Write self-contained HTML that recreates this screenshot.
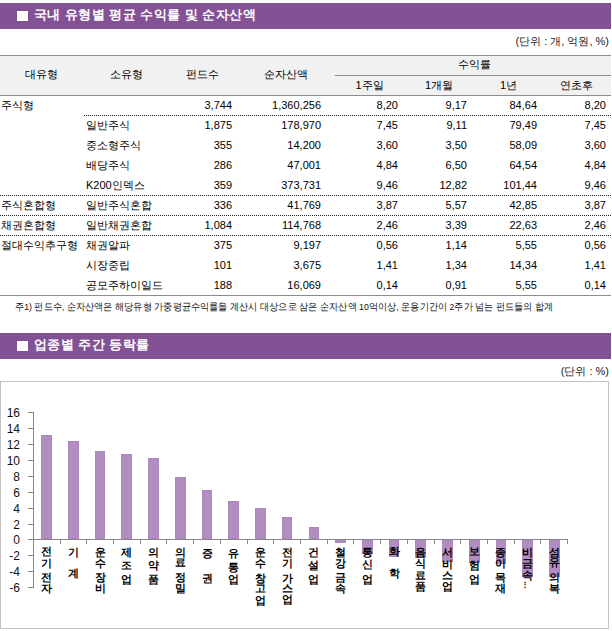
<!DOCTYPE html>
<html><head><meta charset="utf-8"><style>
html,body{margin:0;padding:0;background:#fff}
body{width:612px;height:631px;position:relative;overflow:hidden;font-family:"Liberation Sans",sans-serif;color:#000}
.bar{position:absolute;left:0;width:611px;height:26px;background:#835295}
.sq{position:absolute;width:11px;height:10px;background:#fff}
.tt{position:absolute;color:#fff;font-weight:bold;font-size:13px;line-height:14px;white-space:nowrap;letter-spacing:0.45px}
.unit{position:absolute;font-size:11px;line-height:13px;color:#222;white-space:nowrap}
.hl{position:absolute;height:1px}
.dl{position:absolute;height:1px;background:repeating-linear-gradient(90deg,#222 0 1px,transparent 1px 2px)}
.t{position:absolute;font-size:11px;line-height:16px;white-space:nowrap;color:#000}
.c{width:120px;text-align:center}
.r{text-align:right}
.note{position:absolute;font-size:9.5px;line-height:14px;white-space:nowrap;color:#111;transform:scaleX(0.918);transform-origin:0 0}
.yl{font-size:12px;font-family:"Liberation Sans",sans-serif;fill:#111}
.cl{position:absolute;width:20px;text-align:center;font-size:10.5px;line-height:16px;font-weight:bold;color:#000}
</style></head><body>
<div class="bar" style="top:3px"><span class="sq" style="left:17px;top:8px"></span><span class="tt" style="left:34px;top:5px">국내 유형별 평균 수익률 및 순자산액</span></div>
<div class="unit" style="right:3px;top:35px">(단위 : 개, 억원, %)</div>
<div class="hl" style="top:55px;left:0;width:611px;background:#8c8c8c"></div>
<div style="position:absolute;top:56px;left:0;width:611px;height:39px;background:#f1f1f1"></div>
<div class="hl" style="top:75px;left:335px;width:276px;background:#8c8c8c"></div>
<div class="hl" style="top:95px;left:0;width:611px;background:#8c8c8c"></div>
<div class="hl" style="top:295px;left:0;width:611px;background:#8c8c8c"></div>
<div class="dl" style="top:115px;left:84px;width:527px"></div>
<div class="dl" style="top:195px;left:0px;width:611px"></div>
<div class="dl" style="top:215px;left:0px;width:611px"></div>
<div class="dl" style="top:235px;left:0px;width:611px"></div>
<div class="t c" style="left:-19px;top:66px">대유형</div>
<div class="t c" style="left:66.5px;top:66px">소유형</div>
<div class="t c" style="left:142.5px;top:66px">펀드수</div>
<div class="t c" style="left:226px;top:66px">순자산액</div>
<div class="t c" style="left:414px;top:56px">수익률</div>
<div class="t c" style="left:309.5px;top:77px">1주일</div>
<div class="t c" style="left:379px;top:77px">1개월</div>
<div class="t c" style="left:448.6px;top:77px">1년</div>
<div class="t c" style="left:516.8px;top:77px">연초후</div>
<div class="t" style="left:1px;top:97px">주식형</div>
<div class="t r" style="right:380px;top:97px">3,744</div>
<div class="t r" style="right:291px;top:97px">1,360,256</div>
<div class="t r" style="right:214px;top:97px">8,20</div>
<div class="t r" style="right:145px;top:97px">9,17</div>
<div class="t r" style="right:75px;top:97px">84,64</div>
<div class="t r" style="right:6px;top:97px">8,20</div>
<div class="t" style="left:86px;top:117px">일반주식</div>
<div class="t r" style="right:380px;top:117px">1,875</div>
<div class="t r" style="right:291px;top:117px">178,970</div>
<div class="t r" style="right:214px;top:117px">7,45</div>
<div class="t r" style="right:145px;top:117px">9,11</div>
<div class="t r" style="right:75px;top:117px">79,49</div>
<div class="t r" style="right:6px;top:117px">7,45</div>
<div class="t" style="left:86px;top:137px">중소형주식</div>
<div class="t r" style="right:380px;top:137px">355</div>
<div class="t r" style="right:291px;top:137px">14,200</div>
<div class="t r" style="right:214px;top:137px">3,60</div>
<div class="t r" style="right:145px;top:137px">3,50</div>
<div class="t r" style="right:75px;top:137px">58,09</div>
<div class="t r" style="right:6px;top:137px">3,60</div>
<div class="t" style="left:86px;top:157px">배당주식</div>
<div class="t r" style="right:380px;top:157px">286</div>
<div class="t r" style="right:291px;top:157px">47,001</div>
<div class="t r" style="right:214px;top:157px">4,84</div>
<div class="t r" style="right:145px;top:157px">6,50</div>
<div class="t r" style="right:75px;top:157px">64,54</div>
<div class="t r" style="right:6px;top:157px">4,84</div>
<div class="t" style="left:86px;top:177px">K200인덱스</div>
<div class="t r" style="right:380px;top:177px">359</div>
<div class="t r" style="right:291px;top:177px">373,731</div>
<div class="t r" style="right:214px;top:177px">9,46</div>
<div class="t r" style="right:145px;top:177px">12,82</div>
<div class="t r" style="right:75px;top:177px">101,44</div>
<div class="t r" style="right:6px;top:177px">9,46</div>
<div class="t" style="left:1px;top:197px">주식혼합형</div>
<div class="t" style="left:86px;top:197px">일반주식혼합</div>
<div class="t r" style="right:380px;top:197px">336</div>
<div class="t r" style="right:291px;top:197px">41,769</div>
<div class="t r" style="right:214px;top:197px">3,87</div>
<div class="t r" style="right:145px;top:197px">5,57</div>
<div class="t r" style="right:75px;top:197px">42,85</div>
<div class="t r" style="right:6px;top:197px">3,87</div>
<div class="t" style="left:1px;top:217px">채권혼합형</div>
<div class="t" style="left:86px;top:217px">일반채권혼합</div>
<div class="t r" style="right:380px;top:217px">1,084</div>
<div class="t r" style="right:291px;top:217px">114,768</div>
<div class="t r" style="right:214px;top:217px">2,46</div>
<div class="t r" style="right:145px;top:217px">3,39</div>
<div class="t r" style="right:75px;top:217px">22,63</div>
<div class="t r" style="right:6px;top:217px">2,46</div>
<div class="t" style="left:1px;top:237px">절대수익추구형</div>
<div class="t" style="left:86px;top:237px">채권알파</div>
<div class="t r" style="right:380px;top:237px">375</div>
<div class="t r" style="right:291px;top:237px">9,197</div>
<div class="t r" style="right:214px;top:237px">0,56</div>
<div class="t r" style="right:145px;top:237px">1,14</div>
<div class="t r" style="right:75px;top:237px">5,55</div>
<div class="t r" style="right:6px;top:237px">0,56</div>
<div class="t" style="left:86px;top:257px">시장중립</div>
<div class="t r" style="right:380px;top:257px">101</div>
<div class="t r" style="right:291px;top:257px">3,675</div>
<div class="t r" style="right:214px;top:257px">1,41</div>
<div class="t r" style="right:145px;top:257px">1,34</div>
<div class="t r" style="right:75px;top:257px">14,34</div>
<div class="t r" style="right:6px;top:257px">1,41</div>
<div class="t" style="left:86px;top:277px">공모주하이일드</div>
<div class="t r" style="right:380px;top:277px">188</div>
<div class="t r" style="right:291px;top:277px">16,069</div>
<div class="t r" style="right:214px;top:277px">0,14</div>
<div class="t r" style="right:145px;top:277px">0,91</div>
<div class="t r" style="right:75px;top:277px">5,55</div>
<div class="t r" style="right:6px;top:277px">0,14</div>
<div class="note" style="left:15px;top:300px">주1) 펀드수, 순자산액은 해당유형 가중평균수익률을 계산시 대상으로 삼은 순자산액 10억이상, 운용기간이 2주가 넘는 펀드들의 합계</div>
<div class="bar" style="top:333px"><span class="sq" style="left:17px;top:8px"></span><span class="tt" style="left:34px;top:5px">업종별 주간 등락률</span></div>
<div class="unit" style="right:3px;top:365px">(단위 : %)</div>
<div style="position:absolute;left:0;top:381px;width:607px;height:246px;border:1px solid #c3c3c3"></div>
<svg style="position:absolute;left:0;top:0" width="612" height="631">
<rect x="41" y="435" width="11" height="104" fill="#b18dc2"/>
<rect x="41.5" y="435.5" width="10" height="103" fill="none" stroke="#aa87bd" stroke-width="1"/>
<rect x="68" y="441" width="11" height="98" fill="#b18dc2"/>
<rect x="68.5" y="441.5" width="10" height="97" fill="none" stroke="#aa87bd" stroke-width="1"/>
<rect x="95" y="451" width="10" height="88" fill="#b18dc2"/>
<rect x="95.5" y="451.5" width="9" height="87" fill="none" stroke="#aa87bd" stroke-width="1"/>
<rect x="121" y="454" width="11" height="85" fill="#b18dc2"/>
<rect x="121.5" y="454.5" width="10" height="84" fill="none" stroke="#aa87bd" stroke-width="1"/>
<rect x="148" y="458" width="11" height="81" fill="#b18dc2"/>
<rect x="148.5" y="458.5" width="10" height="80" fill="none" stroke="#aa87bd" stroke-width="1"/>
<rect x="175" y="477" width="11" height="62" fill="#b18dc2"/>
<rect x="175.5" y="477.5" width="10" height="61" fill="none" stroke="#aa87bd" stroke-width="1"/>
<rect x="202" y="490" width="10" height="49" fill="#b18dc2"/>
<rect x="202.5" y="490.5" width="9" height="48" fill="none" stroke="#aa87bd" stroke-width="1"/>
<rect x="228" y="501" width="11" height="38" fill="#b18dc2"/>
<rect x="228.5" y="501.5" width="10" height="37" fill="none" stroke="#aa87bd" stroke-width="1"/>
<rect x="255" y="508" width="11" height="31" fill="#b18dc2"/>
<rect x="255.5" y="508.5" width="10" height="30" fill="none" stroke="#aa87bd" stroke-width="1"/>
<rect x="282" y="517" width="10" height="22" fill="#b18dc2"/>
<rect x="282.5" y="517.5" width="9" height="21" fill="none" stroke="#aa87bd" stroke-width="1"/>
<rect x="309" y="527" width="10" height="12" fill="#b18dc2"/>
<rect x="309.5" y="527.5" width="9" height="11" fill="none" stroke="#aa87bd" stroke-width="1"/>
<rect x="335" y="540" width="11" height="3" fill="#b18dc2"/>
<rect x="335.5" y="540.5" width="10" height="2" fill="none" stroke="#aa87bd" stroke-width="1"/>
<rect x="362" y="540" width="11" height="14" fill="#b18dc2"/>
<rect x="362.5" y="540.5" width="10" height="13" fill="none" stroke="#aa87bd" stroke-width="1"/>
<rect x="389" y="540" width="10" height="17" fill="#b18dc2"/>
<rect x="389.5" y="540.5" width="9" height="16" fill="none" stroke="#aa87bd" stroke-width="1"/>
<rect x="415" y="540" width="11" height="18" fill="#b18dc2"/>
<rect x="415.5" y="540.5" width="10" height="17" fill="none" stroke="#aa87bd" stroke-width="1"/>
<rect x="442" y="540" width="11" height="22" fill="#b18dc2"/>
<rect x="442.5" y="540.5" width="10" height="21" fill="none" stroke="#aa87bd" stroke-width="1"/>
<rect x="469" y="540" width="11" height="23" fill="#b18dc2"/>
<rect x="469.5" y="540.5" width="10" height="22" fill="none" stroke="#aa87bd" stroke-width="1"/>
<rect x="496" y="540" width="10" height="24" fill="#b18dc2"/>
<rect x="496.5" y="540.5" width="9" height="23" fill="none" stroke="#aa87bd" stroke-width="1"/>
<rect x="522" y="540" width="11" height="37" fill="#b18dc2"/>
<rect x="522.5" y="540.5" width="10" height="36" fill="none" stroke="#aa87bd" stroke-width="1"/>
<rect x="549" y="540" width="11" height="37" fill="#b18dc2"/>
<rect x="549.5" y="540.5" width="10" height="36" fill="none" stroke="#aa87bd" stroke-width="1"/>
<path d="M33.5 412 V588" stroke="#878787" stroke-width="1" fill="none"/>
<path d="M28 412.5 H33.5" stroke="#878787" stroke-width="1"/>
<text x="20" y="416.90" text-anchor="end" class="yl">16</text>
<path d="M28 428.5 H33.5" stroke="#878787" stroke-width="1"/>
<text x="20" y="432.90" text-anchor="end" class="yl">14</text>
<path d="M28 444.5 H33.5" stroke="#878787" stroke-width="1"/>
<text x="20" y="448.90" text-anchor="end" class="yl">12</text>
<path d="M28 460.5 H33.5" stroke="#878787" stroke-width="1"/>
<text x="20" y="464.90" text-anchor="end" class="yl">10</text>
<path d="M28 476.5 H33.5" stroke="#878787" stroke-width="1"/>
<text x="20" y="480.90" text-anchor="end" class="yl">8</text>
<path d="M28 492.5 H33.5" stroke="#878787" stroke-width="1"/>
<text x="20" y="496.90" text-anchor="end" class="yl">6</text>
<path d="M28 508.5 H33.5" stroke="#878787" stroke-width="1"/>
<text x="20" y="512.90" text-anchor="end" class="yl">4</text>
<path d="M28 524.5 H33.5" stroke="#878787" stroke-width="1"/>
<text x="20" y="528.90" text-anchor="end" class="yl">2</text>
<path d="M28 539.5 H33.5" stroke="#878787" stroke-width="1"/>
<text x="20" y="543.90" text-anchor="end" class="yl">0</text>
<path d="M28 555.5 H33.5" stroke="#878787" stroke-width="1"/>
<text x="20" y="559.90" text-anchor="end" class="yl">-2</text>
<path d="M28 571.5 H33.5" stroke="#878787" stroke-width="1"/>
<text x="20" y="575.90" text-anchor="end" class="yl">-4</text>
<path d="M28 587.5 H33.5" stroke="#878787" stroke-width="1"/>
<text x="20" y="591.90" text-anchor="end" class="yl">-6</text>
<path d="M28 539.5 H568" stroke="#878787" stroke-width="1"/>
<path d="M60.50 539.5 V544.0" stroke="#878787" stroke-width="1"/>
<path d="M86.50 539.5 V544.0" stroke="#878787" stroke-width="1"/>
<path d="M113.50 539.5 V544.0" stroke="#878787" stroke-width="1"/>
<path d="M140.50 539.5 V544.0" stroke="#878787" stroke-width="1"/>
<path d="M166.50 539.5 V544.0" stroke="#878787" stroke-width="1"/>
<path d="M193.50 539.5 V544.0" stroke="#878787" stroke-width="1"/>
<path d="M220.50 539.5 V544.0" stroke="#878787" stroke-width="1"/>
<path d="M247.50 539.5 V544.0" stroke="#878787" stroke-width="1"/>
<path d="M273.50 539.5 V544.0" stroke="#878787" stroke-width="1"/>
<path d="M300.50 539.5 V544.0" stroke="#878787" stroke-width="1"/>
<path d="M327.50 539.5 V544.0" stroke="#878787" stroke-width="1"/>
<path d="M353.50 539.5 V544.0" stroke="#878787" stroke-width="1"/>
<path d="M380.50 539.5 V544.0" stroke="#878787" stroke-width="1"/>
<path d="M407.50 539.5 V544.0" stroke="#878787" stroke-width="1"/>
<path d="M434.50 539.5 V544.0" stroke="#878787" stroke-width="1"/>
<path d="M460.50 539.5 V544.0" stroke="#878787" stroke-width="1"/>
<path d="M487.50 539.5 V544.0" stroke="#878787" stroke-width="1"/>
<path d="M514.50 539.5 V544.0" stroke="#878787" stroke-width="1"/>
<path d="M540.50 539.5 V544.0" stroke="#878787" stroke-width="1"/>
<path d="M567.50 539.5 V544.0" stroke="#878787" stroke-width="1"/>
</svg>
<div class="cl" style="left:36.7px;top:543.3px">전</div>
<div class="cl" style="left:36.7px;top:555.0px">기</div>
<div class="cl" style="left:36.7px;top:568.8px">전</div>
<div class="cl" style="left:36.7px;top:579.5px">자</div>
<div class="cl" style="left:63.4px;top:543.9px">기</div>
<div class="cl" style="left:63.4px;top:565.0px">계</div>
<div class="cl" style="left:90.1px;top:544.4px">운</div>
<div class="cl" style="left:90.1px;top:554.8px">수</div>
<div class="cl" style="left:90.1px;top:568.5px">장</div>
<div class="cl" style="left:90.1px;top:579.7px">비</div>
<div class="cl" style="left:116.8px;top:543.9px">제</div>
<div class="cl" style="left:116.8px;top:556.5px">조</div>
<div class="cl" style="left:116.8px;top:570.5px">업</div>
<div class="cl" style="left:143.5px;top:544.0px">의</div>
<div class="cl" style="left:143.5px;top:556.8px">약</div>
<div class="cl" style="left:143.5px;top:570.8px">품</div>
<div class="cl" style="left:170.3px;top:544.0px">의</div>
<div class="cl" style="left:170.3px;top:554.2px">료</div>
<div class="cl" style="left:170.3px;top:568.9px">정</div>
<div class="cl" style="left:170.3px;top:580.0px">밀</div>
<div class="cl" style="left:197.0px;top:544.7px">증</div>
<div class="cl" style="left:197.0px;top:569.9px">권</div>
<div class="cl" style="left:223.7px;top:544.6px">유</div>
<div class="cl" style="left:223.7px;top:558.5px">통</div>
<div class="cl" style="left:223.7px;top:570.5px">업</div>
<div class="cl" style="left:250.4px;top:544.4px">운</div>
<div class="cl" style="left:250.4px;top:555.2px">수</div>
<div class="cl" style="left:250.4px;top:569.8px">창</div>
<div class="cl" style="left:250.4px;top:580.0px">고</div>
<div class="cl" style="left:250.4px;top:591.5px">업</div>
<div class="cl" style="left:277.1px;top:544.0px">전</div>
<div class="cl" style="left:277.1px;top:555.2px">기</div>
<div class="cl" style="left:277.1px;top:569.5px">가</div>
<div class="cl" style="left:277.1px;top:580.4px">스</div>
<div class="cl" style="left:277.1px;top:591.1px">업</div>
<div class="cl" style="left:303.9px;top:544.0px">건</div>
<div class="cl" style="left:303.9px;top:556.5px">설</div>
<div class="cl" style="left:303.9px;top:570.5px">업</div>
<div class="cl" style="left:330.6px;top:543.9px">철</div>
<div class="cl" style="left:330.6px;top:555.2px">강</div>
<div class="cl" style="left:330.6px;top:569.2px">금</div>
<div class="cl" style="left:330.6px;top:580.0px">속</div>
<div class="cl" style="left:357.3px;top:544.0px">통</div>
<div class="cl" style="left:357.3px;top:556.2px">신</div>
<div class="cl" style="left:357.3px;top:570.5px">업</div>
<div class="cl" style="left:384.0px;top:543.4px">화</div>
<div class="cl" style="left:384.0px;top:565.0px">학</div>
<div class="cl" style="left:410.7px;top:543.9px">음</div>
<div class="cl" style="left:410.7px;top:555.2px">식</div>
<div class="cl" style="left:410.7px;top:567.0px">료</div>
<div class="cl" style="left:410.7px;top:577.7px">품</div>
<div class="cl" style="left:437.5px;top:544.0px">서</div>
<div class="cl" style="left:437.5px;top:555.5px">비</div>
<div class="cl" style="left:437.5px;top:567.0px">스</div>
<div class="cl" style="left:437.5px;top:577.7px">업</div>
<div class="cl" style="left:464.2px;top:543.2px">보</div>
<div class="cl" style="left:464.2px;top:557.0px">험</div>
<div class="cl" style="left:464.2px;top:570.5px">업</div>
<div class="cl" style="left:490.9px;top:543.9px">종</div>
<div class="cl" style="left:490.9px;top:555.2px">이</div>
<div class="cl" style="left:490.9px;top:569.2px">목</div>
<div class="cl" style="left:490.9px;top:580.1px">재</div>
<div class="cl" style="left:517.6px;top:544.0px">비</div>
<div class="cl" style="left:517.6px;top:555.3px">금</div>
<div class="cl" style="left:517.6px;top:567.0px">속</div>
<div class="cl" style="left:514.6px;top:577.4px;font-size:8px">⋮</div>
<div class="cl" style="left:544.3px;top:543.6px">섬</div>
<div class="cl" style="left:544.3px;top:553.9px">유</div>
<div class="cl" style="left:544.3px;top:568.6px">의</div>
<div class="cl" style="left:544.3px;top:580.4px">복</div>
</body></html>
